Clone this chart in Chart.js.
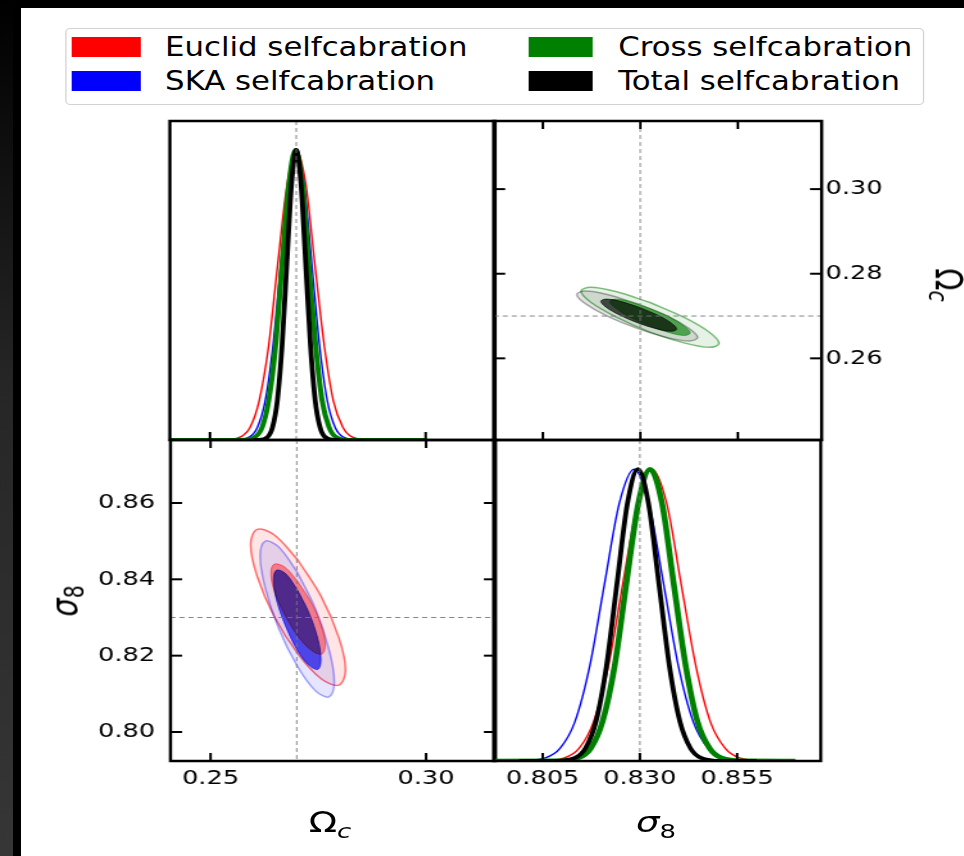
<!DOCTYPE html>
<html>
<head>
<meta charset="utf-8">
<title>Self-calibration corner plot</title>
<script src="https://cdn.jsdelivr.net/npm/chart.js@4.4.1/dist/chart.umd.min.js"></script>
<style>
  html, body { margin: 0; padding: 0; width: 964px; height: 856px; overflow: hidden; background: #000; }
  #strip { position: absolute; left: 0; top: 0; width: 13px; height: 856px;
           background: linear-gradient(#000 0%, #262626 45%, #363636 100%); }
  #sheet { position: absolute; left: 21px; top: 8px; right: 0; bottom: 0; background: #fff; }
  #fig { position: absolute; left: 0; top: 0; height: 856px; transform-origin: 0 0;
         font-family: "DejaVu Sans", sans-serif; color: #000; }
  .abs { position: absolute; }
  .legend { border: 1px solid #d2d2d2; border-radius: 4px; background: #fff; box-sizing: border-box; }
  .label { position: absolute; font-size: 27px; line-height: 27px; white-space: nowrap;
           transform-origin: 0 50%; transform: scaleX(0.89); }
  .title { position: absolute; font-size: 29px; line-height: 29px; white-space: nowrap; }
  .title sub { font-size: 70%; vertical-align: -0.3em; line-height: 0; }
</style>
</head>
<body>
<div id="strip"></div>
<div id="sheet"></div>
<div id="fig"></div>
<script>
// ---- data --------------------------------------------------------------
const omegaRange = [0.2407, 0.3161];
const sigmaRange = [0.7924, 0.8765];
const pdfRange = [0, 1.1];

const omegaTicksX = [0.25, 0.30];
const omegaTicksY = [0.26, 0.28, 0.30];
const sigmaTicksX = [0.805, 0.830, 0.855];
const sigmaTicksY = [0.80, 0.82, 0.84, 0.86];

const fiducialOmega = 0.27;
const fiducialSigma = 0.83;

const seriesNames = ['Euclid selfcabration', 'SKA selfcabration', 'Cross selfcabration', 'Total selfcabration'];
const seriesColors = ['#ff0000', '#0000ff', '#008000', '#000000'];

// 1D marginals of Omega_c  [Omega_c, P/Pmax]
const euclidOmega = [[0.2480,0],[0.2528,0.0003],[0.2571,0.011],[0.2593,0.044],[0.2614,0.135],[0.2636,0.325],[0.2657,0.607],[0.2679,0.883],[0.2700,1],[0.2722,0.883],[0.2743,0.607],[0.2765,0.325],[0.2786,0.135],[0.2808,0.044],[0.2829,0.011],[0.2872,0.0003],[0.3161,0]];
const skaOmega = [[0.2520,0],[0.2556,0.0003],[0.2592,0.011],[0.2610,0.044],[0.2628,0.135],[0.2646,0.325],[0.2664,0.607],[0.2682,0.883],[0.2700,1],[0.2718,0.883],[0.2736,0.607],[0.2754,0.325],[0.2772,0.135],[0.2790,0.044],[0.2808,0.011],[0.2844,0.0003],[0.2900,0]];
const crossOmega = [[0.2407,0],[0.2574,0.0003],[0.2605,0.011],[0.2621,0.044],[0.2636,0.135],[0.2652,0.325],[0.2667,0.607],[0.2683,0.883],[0.2698,1],[0.2714,0.883],[0.2729,0.607],[0.2745,0.325],[0.2760,0.135],[0.2776,0.044],[0.2791,0.011],[0.2822,0.0003],[0.3000,0]];
const totalOmega = [[0.2600,0],[0.2612,0.0003],[0.2634,0.011],[0.2645,0.044],[0.2656,0.135],[0.2667,0.325],[0.2678,0.607],[0.2689,0.883],[0.2700,1],[0.2711,0.883],[0.2722,0.607],[0.2733,0.325],[0.2744,0.135],[0.2755,0.044],[0.2766,0.011],[0.2788,0.0003],[0.2800,0]];

// 1D marginals of sigma_8  [sigma_8, P/Pmax]
const euclidSigma = [[0.7980,0],[0.8031,0.0003],[0.8106,0.011],[0.8144,0.044],[0.8181,0.135],[0.8219,0.325],[0.8256,0.607],[0.8294,0.883],[0.8331,1],[0.8369,0.883],[0.8406,0.607],[0.8444,0.325],[0.8481,0.135],[0.8519,0.044],[0.8556,0.011],[0.8631,0.0003],[0.8765,0]];
const skaSigma = [[0.7924,0],[0.7981,0.0003],[0.8057,0.011],[0.8095,0.044],[0.8133,0.135],[0.8171,0.325],[0.8209,0.607],[0.8247,0.883],[0.8285,1],[0.8323,0.883],[0.8361,0.607],[0.8399,0.325],[0.8437,0.135],[0.8475,0.044],[0.8513,0.011],[0.8589,0.0003],[0.8700,0]];
const crossSigma = [[0.7924,0],[0.8082,0.0003],[0.8143,0.011],[0.8174,0.044],[0.8204,0.135],[0.8235,0.325],[0.8265,0.607],[0.8296,0.883],[0.8326,1],[0.8357,0.883],[0.8387,0.607],[0.8418,0.325],[0.8448,0.135],[0.8479,0.044],[0.8509,0.011],[0.8570,0.0003],[0.8700,0]];
const totalSigma = [[0.7990,0],[0.8079,0.0003],[0.8133,0.011],[0.8160,0.044],[0.8187,0.135],[0.8214,0.325],[0.8241,0.607],[0.8268,0.883],[0.8295,1],[0.8322,0.883],[0.8349,0.607],[0.8376,0.325],[0.8403,0.135],[0.8430,0.044],[0.8457,0.011],[0.8511,0.0003],[0.8600,0]];

// 2D contours, Omega_c vs sigma_8  [Omega_c, sigma_8]
const euclid95 = [[0.2703,0.8450],[0.2648,0.8516],[0.2608,0.8531],[0.2593,0.8491],[0.2608,0.8408],[0.2648,0.8302],[0.2703,0.8204],[0.2758,0.8138],[0.2798,0.8123],[0.2813,0.8163],[0.2798,0.8246],[0.2758,0.8352]];
const euclid68 = [[0.2703,0.8393],[0.2672,0.8432],[0.2648,0.8440],[0.2640,0.8417],[0.2648,0.8369],[0.2672,0.8308],[0.2703,0.8251],[0.2735,0.8213],[0.2758,0.8204],[0.2766,0.8227],[0.2758,0.8275],[0.2735,0.8336]];
const ska95 = [[0.2701,0.8419],[0.2658,0.8485],[0.2627,0.8500],[0.2615,0.8460],[0.2627,0.8377],[0.2658,0.8271],[0.2701,0.8173],[0.2744,0.8107],[0.2775,0.8092],[0.2787,0.8132],[0.2775,0.8215],[0.2744,0.8321]];
const ska68 = [[0.2701,0.8373],[0.2674,0.8415],[0.2653,0.8424],[0.2646,0.8399],[0.2653,0.8346],[0.2674,0.8278],[0.2701,0.8215],[0.2729,0.8174],[0.2749,0.8164],[0.2756,0.8189],[0.2749,0.8243],[0.2729,0.8310]];

// 2D contours, sigma_8 vs Omega_c  [sigma_8, Omega_c]
const cross95 = [[0.8325,0.2732],[0.8237,0.2758],[0.8172,0.2768],[0.8148,0.2759],[0.8172,0.2733],[0.8237,0.2698],[0.8325,0.2662],[0.8414,0.2636],[0.8478,0.2626],[0.8502,0.2635],[0.8478,0.2661],[0.8414,0.2696]];
const cross68 = [[0.8325,0.2718],[0.8274,0.2734],[0.8236,0.2740],[0.8222,0.2734],[0.8236,0.2719],[0.8274,0.2697],[0.8325,0.2676],[0.8377,0.2660],[0.8414,0.2654],[0.8428,0.2660],[0.8414,0.2675],[0.8377,0.2697]];
const total95 = [[0.8292,0.2729],[0.8215,0.2751],[0.8158,0.2759],[0.8137,0.2751],[0.8158,0.2730],[0.8215,0.2700],[0.8292,0.2671],[0.8370,0.2649],[0.8426,0.2641],[0.8447,0.2649],[0.8426,0.2670],[0.8370,0.2700]];
const total68 = [[0.8296,0.2721],[0.8248,0.2735],[0.8212,0.2740],[0.8199,0.2735],[0.8212,0.2721],[0.8248,0.2702],[0.8296,0.2683],[0.8345,0.2669],[0.8380,0.2664],[0.8393,0.2669],[0.8380,0.2683],[0.8345,0.2702]];

// ---- layout ---------------------------------------------------------------
// the source image is stretched sideways, so the whole figure is too
const S = 1.28;
const fig = document.getElementById('fig');
fig.style.width = (964 / S) + 'px';
fig.style.transform = 'scaleX(' + S + ')';

function place(el, x0, y0, x1, y1) {
  el.style.left = (x0 / S) + 'px';
  el.style.top = y0 + 'px';
  if (x1 !== undefined) {
    el.style.width = ((x1 - x0) / S) + 'px';
    el.style.height = (y1 - y0) + 'px';
  }
  fig.appendChild(el);
  return el;
}

function pts(a) { return a.map(p => ({ x: p[0], y: p[1] })); }
function ring(a) { return pts(a.concat([a[0]])); }

function curve(data, color, width) {
  return { data: pts(data), borderColor: color, borderWidth: width, fill: false,
           pointRadius: 0, cubicInterpolationMode: 'monotone' };
}
function contour(data, line, area, width, blend) {
  return { data: ring(data), borderColor: line, backgroundColor: area, borderWidth: width,
           fill: 'shape', pointRadius: 0, tension: 0.35, blend: blend || 'source-over' };
}

function axis(range, o) {
  o = o || {};
  const sc = { type: 'linear', min: range[0], max: range[1], display: !!o.ticks,
               position: o.position, grid: { display: false, drawTicks: false },
               border: { display: false } };
  if (o.ticks) {
    sc.ticks = { autoSkip: false, maxRotation: 0, minRotation: 0, padding: o.pad, color: '#000',
                 font: { family: 'DejaVu Sans', size: 20 }, callback: v => v.toFixed(o.dec) };
    sc.afterBuildTicks = s => { s.ticks = o.ticks.map(v => ({ value: v })); };
    sc.afterFit = s => {
      if (o.w) s.width = o.w;
      if (o.h) s.height = o.h;
      s.paddingTop = s.paddingBottom = s.paddingLeft = s.paddingRight = 0;
    };
  }
  return sc;
}

// blend mode per dataset, border, inward ticks and dashed fiducial lines
function drawOrder(chart) { return chart.getSortedVisibleDatasetMetas().slice().reverse(); }
function setBlend(chart, meta) {
  chart.ctx.globalCompositeOperation = meta ? (chart.data.datasets[meta.index].blend || 'source-over') : 'source-over';
}
const frame = {
  id: 'frame',
  beforeDatasetsDraw(chart) { setBlend(chart, drawOrder(chart)[0]); },
  afterDatasetDraw(chart, args) {
    const seq = drawOrder(chart);
    const k = seq.findIndex(m => m.index === args.index);
    setBlend(chart, seq[k + 1]);
  },
  afterDatasetsDraw(chart, args, o) {
    const { ctx, chartArea: a } = chart;
    const x = chart.scales.x, y = chart.scales.y;
    const seg = (x0, y0, x1, y1) => { ctx.beginPath(); ctx.moveTo(x0, y0); ctx.lineTo(x1, y1); ctx.stroke(); };
    ctx.globalCompositeOperation = 'source-over';
    ctx.save();
    ctx.strokeStyle = 'rgba(120,120,120,0.9)';
    ctx.lineWidth = 1;
    ctx.setLineDash([4, 3]);
    (o.vlines || []).forEach(v => { const p = x.getPixelForValue(v); seg(p, a.top, p, a.bottom); });
    (o.hlines || []).forEach(v => { const p = y.getPixelForValue(v); seg(a.left, p, a.right, p); });
    ctx.setLineDash([]);
    ctx.strokeStyle = '#000';
    ctx.lineWidth = 2;
    const t = o.ticks || {};
    (t.top || []).forEach(v => { const p = x.getPixelForValue(v); seg(p, a.top, p, a.top + 8); });
    (t.bottom || []).forEach(v => { const p = x.getPixelForValue(v); seg(p, a.bottom, p, a.bottom - 8); });
    (t.left || []).forEach(v => { const p = y.getPixelForValue(v); seg(a.left, p, a.left + 9, p); });
    (t.right || []).forEach(v => { const p = y.getPixelForValue(v); seg(a.right, p, a.right - 9, p); });
    ctx.lineWidth = 2.5;
    ctx.strokeRect(a.left, a.top, a.right - a.left, a.bottom - a.top);
    ctx.restore();
  }
};

function panel(b, datasets, xs, ys, pad, deco) {
  const holder = place(document.createElement('div'), b[0], b[1], b[2], b[3]);
  holder.className = 'abs';
  const cv = document.createElement('canvas');
  holder.appendChild(cv);
  datasets.forEach((d, i) => { d.order = datasets.length - i; });
  return new Chart(cv, {
    type: 'line',
    data: { datasets: datasets },
    options: {
      responsive: true, maintainAspectRatio: false, animation: false, events: [],
      layout: { padding: pad, autoPadding: false },
      plugins: { legend: { display: false }, tooltip: { enabled: false }, frame: deco },
      scales: { x: xs, y: ys }
    },
    plugins: [frame]
  });
}

const thin = 1.4;

// top left: Omega_c marginals
panel([164, 115, 500, 446],
  [curve(euclidOmega, seriesColors[0], thin), curve(skaOmega, seriesColors[1], thin),
   curve(crossOmega, seriesColors[2], 4), curve(totalOmega, seriesColors[3], 3.8)],
  axis(omegaRange), axis(pdfRange),
  { left: 6 / S, right: 6 / S, top: 6, bottom: 6 },
  { vlines: [fiducialOmega], ticks: { bottom: omegaTicksX } });

// top right: sigma_8 vs Omega_c, Cross and Total
panel([488, 115, 964, 446],
  [contour(cross95, 'rgba(0,128,0,0.5)', 'rgba(0,128,0,0.1)', 1.5),
   contour(total95, 'rgba(0,0,0,0.32)', 'rgba(0,0,0,0.1)', 1.5),
   contour(cross68, 'rgba(0,128,0,0.5)', 'rgba(0,128,0,0.62)', 1),
   contour(total68, 'rgb(78,84,78)', 'rgb(78,84,78)', 1, 'multiply')],
  axis(sigmaRange),
  axis(omegaRange, { ticks: omegaTicksY, dec: 2, position: 'right', pad: 3, w: (964 - 821) / S }),
  { left: 6 / S, right: 0, top: 6, bottom: 6 },
  { vlines: [fiducialSigma], hlines: [fiducialOmega],
    ticks: { top: sigmaTicksX, bottom: sigmaTicksX, left: omegaTicksY, right: omegaTicksY } });

// bottom left: Omega_c vs sigma_8, Euclid and SKA
panel([60, 434, 500, 800],
  [contour(euclid95, 'rgba(255,0,0,0.55)', 'rgba(255,0,0,0.1)', 1.5),
   contour(ska95, 'rgba(0,0,255,0.35)', 'rgba(0,0,255,0.1)', 1.5),
   contour(euclid68, 'rgba(255,0,0,0.5)', 'rgba(255,0,0,0.4)', 1),
   contour(ska68, 'rgb(85,85,255)', 'rgb(85,85,255)', 1, 'multiply')],
  axis(omegaRange, { ticks: omegaTicksX, dec: 2, position: 'bottom', pad: 6, h: 800 - 761 }),
  axis(sigmaRange, { ticks: sigmaTicksY, dec: 2, position: 'left', pad: 12, w: (170 - 60) / S }),
  { left: 0, right: 6 / S, top: 6, bottom: 0 },
  { vlines: [fiducialOmega], hlines: [fiducialSigma],
    ticks: { top: omegaTicksX, bottom: omegaTicksX, left: sigmaTicksY, right: sigmaTicksY } });

// bottom right: sigma_8 marginals
panel([488, 434, 830, 800],
  [curve(euclidSigma, seriesColors[0], thin), curve(skaSigma, seriesColors[1], thin),
   curve(crossSigma, seriesColors[2], 4.6), curve(totalSigma, seriesColors[3], 3.8)],
  axis(sigmaRange, { ticks: sigmaTicksX, dec: 3, position: 'bottom', pad: 6, h: 800 - 761 }),
  axis(pdfRange),
  { left: 6 / S, right: 9 / S, top: 6, bottom: 0 },
  { vlines: [fiducialSigma], ticks: { bottom: sigmaTicksX } });

// ---- legend -----------------------------------------------------------------
const lg = place(document.createElement('div'), 65, 28, 924, 105);
lg.className = 'abs legend';
const cols = [[72, 141, 165], [528, 592, 618]];
const rows = [[37, 57], [71, 91]];
[[0, 0], [1, 0], [0, 1], [1, 1]].forEach((rc, i) => {
  const c = cols[rc[1]], r = rows[rc[0]];
  const sw = place(document.createElement('div'), c[0], r[0], c[1], r[1]);
  sw.className = 'abs';
  sw.style.background = seriesColors[i];
  const tx = place(document.createElement('div'), c[2], (r[0] + r[1]) / 2 - 14);
  tx.className = 'label';
  tx.textContent = seriesNames[i];
});

// ---- axis titles ---------------------------------------------------------------
function title(html, x, y, rot) {
  const el = place(document.createElement('div'), x, y);
  el.className = 'title';
  el.innerHTML = html;
  el.style.transform = 'translate(-50%,-50%)' + (rot ? ' rotate(' + rot + 'deg)' : '');
  return el;
}
title('&Omega;<sub><i>c</i></sub>', 330, 822);
title('<i>&sigma;</i><sub>8</sub>', 656, 822);
title('<i>&sigma;</i><sub>8</sub>', 64, 601, -90);
title('&Omega;<sub><i>c</i></sub>', 948, 285, 90);
</script>
</body>
</html>
